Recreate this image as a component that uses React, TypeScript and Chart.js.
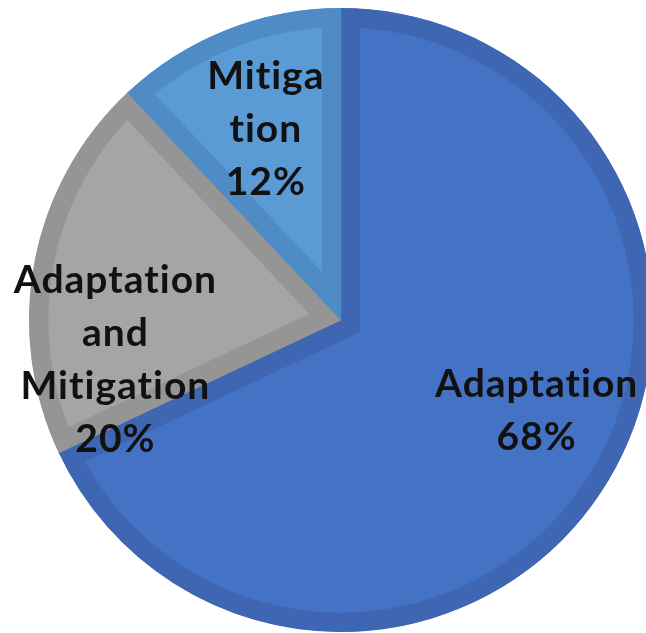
import React, { useEffect, useRef } from "react";
import { Chart, registerables } from "chart.js";

Chart.register(...registerables);

const categories = ["Adaptation", "Adaptation and Mitigation", "Mitigation"];
const shares = [68, 20, 12];
const labelLines = [
  ["Adaptation", "68%"],
  ["Adaptation", "and", "Mitigation", "20%"],
  ["Mitiga", "tion", "12%"],
];
const fillColors = ["#4472C4", "#A5A5A5", "#5B9BD5"];
const borderColors = ["#3E66B2", "#959595", "#4F8BC4"];
// label anchor (first baseline) relative to pie centre, in units of radius
const labelAnchors = [
  [0.627, 0.248],
  [-0.723, -0.087],
  [-0.241, -0.74],
];

const labelPlugin = {
  id: "sliceLabels",
  afterDatasetsDraw(chart: any) {
    const ctx = chart.ctx;
    const meta = chart.getDatasetMeta(0);
    ctx.save();
    ctx.font = "bold 39px Lato";
    try {
      ctx.letterSpacing = "1px";
    } catch (e) {}
    ctx.fillStyle = "#111111";
    ctx.textAlign = "center";
    ctx.textBaseline = "alphabetic";
    meta.data.forEach((arc: any, i: number) => {
      const r = arc.outerRadius;
      const x = arc.x + labelAnchors[i][0] * r;
      const y0 = arc.y + labelAnchors[i][1] * r;
      labelLines[i].forEach((line, j) => {
        ctx.fillText(line, x, y0 + j * 53);
      });
    });
    ctx.restore();
  },
};

export default function App() {
  const ref = useRef<HTMLCanvasElement>(null);
  useEffect(() => {
    document.body.style.margin = "0";
    const chart = new Chart(ref.current!, {
      type: "pie",
      data: {
        labels: categories,
        datasets: [
          {
            data: shares,
            backgroundColor: fillColors,
            borderColor: borderColors,
            borderWidth: 19,
            borderAlign: "inner",
            borderJoinStyle: "miter",
            hoverOffset: 0,
            offset: 0,
          } as any,
        ],
      },
      options: {
        animation: false,
        responsive: false,
        events: [],
        layout: { padding: { left: 29, right: 7, top: 8, bottom: 8 } },
        plugins: {
          legend: { display: false },
          tooltip: { enabled: false },
        },
      },
      plugins: [labelPlugin],
    });
    return () => chart.destroy();
  }, []);
  return (
    <div style={{ position: "fixed", left: 0, top: 0, width: 660, height: 640 }}>
      <canvas ref={ref} width={660} height={640} style={{ width: 660, height: 640 }} />
    </div>
  );
}
